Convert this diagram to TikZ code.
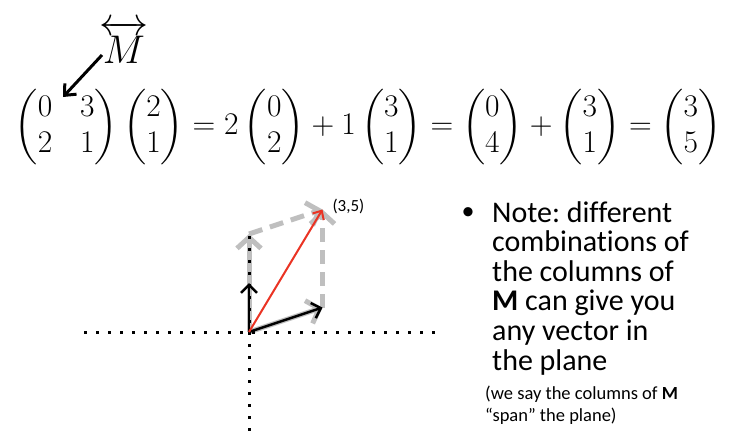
\RequirePackage{fix-cm}
\documentclass[tikz,border=0pt]{standalone}
\usepackage{amsmath, amssymb}
\usepackage{fontspec}
\setmainfont[Ligatures=NoCommon]{Carlito}
\usepackage{tikz}
\usetikzlibrary{arrows.meta,positioning}

\definecolor{vecgray}{RGB}{191,191,191}
\definecolor{vecred}{RGB}{234,51,35}

\begin{document}
\frenchspacing
\begin{tikzpicture}[
  x=1pt, y=-1pt,
  graybar/.style={draw=vecgray, line width=5pt, -{Straight Barb[length=11pt,width=24pt]}},
  graydash/.style={graybar, dash pattern=on 14pt off 8pt},
  blackvec/.style={draw=black, line width=2.5pt, -{Straight Barb[length=8pt,width=16pt]}},
  redvec/.style={draw=vecred, line width=2pt, -{Straight Barb[length=7pt,width=13pt]}},
  axis/.style={draw=black, line width=3pt, dash pattern=on 3pt off 9pt},
  note/.style={align=left, anchor=north west, inner sep=0pt}
]
  \useasboundingbox (0,0) rectangle (736,434);

  % Matrix label and the equation
  \node[inner sep=0pt] (mlabel) at (124,42) {\fontsize{40}{44}\selectfont$\overleftrightarrow{M}$};
  \node[inner sep=0pt] (eq) at (368,127) {\fontsize{31.5}{36}\selectfont\arraycolsep=14pt
    $\begin{pmatrix}0&3\\2&1\end{pmatrix}\begin{pmatrix}2\\1\end{pmatrix}
    =2\begin{pmatrix}0\\2\end{pmatrix}+1\begin{pmatrix}3\\1\end{pmatrix}
    =\begin{pmatrix}0\\4\end{pmatrix}+\begin{pmatrix}3\\1\end{pmatrix}
    =\begin{pmatrix}3\\5\end{pmatrix}$};
  \coordinate (mfrom) at (102,55);
  \coordinate (mto) at (63,97);
  \draw[line width=3pt, -{Straight Barb[length=9pt,width=16pt]}] (mfrom) -- (mto);

  % Vectors in the plane
  \coordinate (o) at (249,332);
  \coordinate (c1) at (322.5,307.5);
  \coordinate (c2) at (249,283);
  \coordinate (c4) at (249,234);
  \coordinate (p) at (322.5,209.5);

  \draw[graybar] (o) -- (c4);
  \draw[graybar] (o) -- (c1);
  \draw[graydash] (c4) -- (p);
  \draw[graydash] (c1) -- (p);

  \coordinate (xl) at (84,332);
  \coordinate (xr) at (440,332);
  \coordinate (yt) at (249,236);
  \coordinate (yb) at (249,434);
  \draw[axis] (xl) -- (xr);
  \draw[axis] (yt) -- (yb);

  \draw[blackvec] (o) -- (c1);
  \draw[blackvec] (o) -- (c2);
  \draw[redvec] (o) -- (p);
  \node[anchor=west, font=\fontsize{17}{20}\selectfont] (plabel) at (329,206) {(3,5)};

  % Note on the right
  \node[font=\fontsize{26}{30}\selectfont] (bullet) at (468,214) {\textbullet};
  \node[note, font=\fontsize{30}{29.6}\selectfont] (txt) at (492,201)
    {Note: different\\combinations of\\the columns of\\\textbf{M} can give you\\any vector in\\the plane};
  \node[note, font=\fontsize{18.5}{22}\selectfont] (small) at (485,386)
    {(we say the columns of \textbf{M}\\“span” the plane)};
\end{tikzpicture}
\end{document}
